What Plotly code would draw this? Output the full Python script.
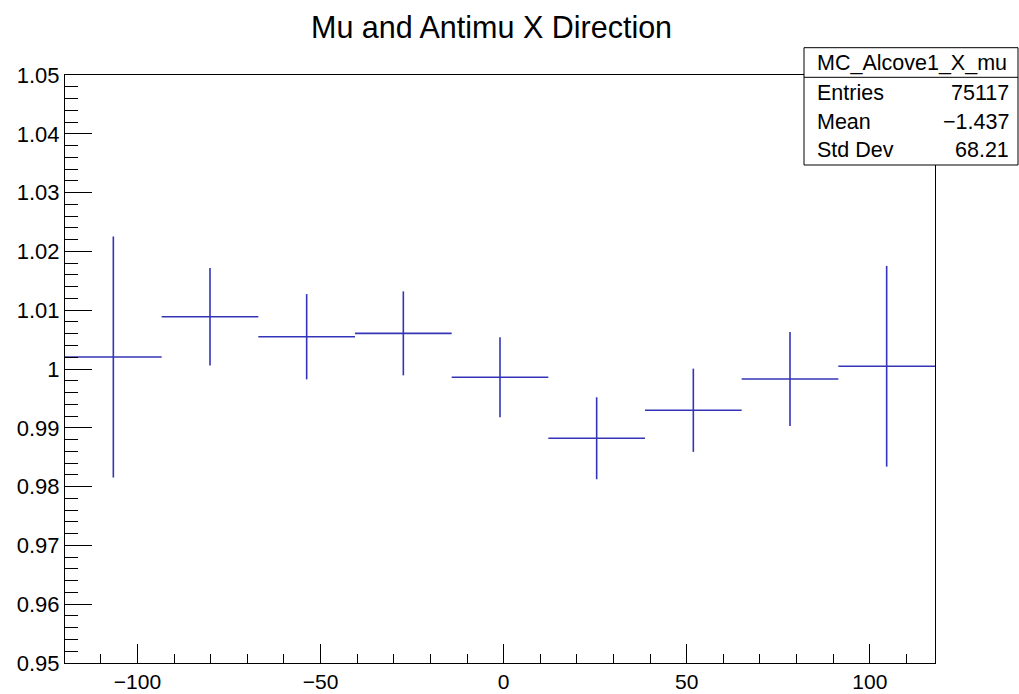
import plotly.graph_objects as go

# ---- data ----
bin_edges_lo = -119.8
bin_width = 26.4
n_bins = 9
bin_centers = [bin_edges_lo + bin_width * (i + 0.5) for i in range(n_bins)]
ratio_values = [1.00204, 1.00889, 1.00549, 1.00606, 0.99859, 0.98822, 0.99298, 0.99830, 1.00046]
ratio_errors = [0.0205, 0.0083, 0.00725, 0.00714, 0.0068, 0.00697, 0.00708, 0.0080, 0.01707]

x_tick_vals = [-100, -50, 0, 50, 100]
x_tick_text = ["\u2212100", "\u221250", "0", "50", "100"]
y_tick_vals = [0.95, 0.96, 0.97, 0.98, 0.99, 1.00, 1.01, 1.02, 1.03, 1.04, 1.05]
y_tick_text = ["0.95", "0.96", "0.97", "0.98", "0.99", "1", "1.01", "1.02", "1.03", "1.04", "1.05"]

title_text = "Mu and Antimu X Direction"
stats_name = "MC_Alcove1_X_mu"
stats_labels = ["Entries", "Mean", "Std Dev"]
stats_values = ["75117", "\u22121.437", "68.21"]

# ---- layout geometry ----
W, H = 1019, 694
ML, MR, MT, MB = 65, 84, 75, 31
PW, PH = W - ML - MR, H - MT - MB
FONT = "Liberation Sans, Arial, Helvetica, sans-serif"
BLUE = "#3434b8"


def px(xp):
    return (xp - ML) / PW


def py(yp):
    return (H - MB - yp) / PH


fig = go.Figure()
fig.add_trace(go.Scatter(
    x=bin_centers,
    y=ratio_values,
    mode="markers",
    marker=dict(size=0, color="rgba(0,0,0,0)"),
    error_x=dict(type="constant", value=bin_width / 2, width=0, thickness=1.6, color=BLUE),
    error_y=dict(type="data", array=ratio_errors, width=0, thickness=1.6, color=BLUE),
    showlegend=False,
    hoverinfo="x+y",
))

# stats box
bx0, bx1, by0, by1, bsep = 804, 1018, 47.7, 165, 77.3
shapes = [
    dict(type="rect", xref="paper", yref="paper", x0=px(bx0), x1=px(bx1), y0=py(by1), y1=py(by0),
         line=dict(color="black", width=1), fillcolor="white", layer="above"),
    dict(type="line", xref="paper", yref="paper", x0=px(bx0), x1=px(bx1), y0=py(bsep), y1=py(bsep),
         line=dict(color="black", width=1), layer="above"),
]
annotations = [
    dict(text=title_text, xref="paper", yref="paper", x=px(491), y=py(27), xanchor="center", yanchor="middle",
         showarrow=False, font=dict(family=FONT, size=30.5, color="black")),
    dict(text=stats_name, xref="paper", yref="paper", x=px(912), y=py(63), xanchor="center", yanchor="middle",
         showarrow=False, font=dict(family=FONT, size=21.5, color="black")),
]
row_y = [93.5, 121.7, 150]
for lab, val, yy in zip(stats_labels, stats_values, row_y):
    annotations.append(dict(text=lab, xref="paper", yref="paper", x=px(815), y=py(yy), xanchor="left",
                            yanchor="middle", showarrow=False, font=dict(family=FONT, size=21.5, color="black")))
    annotations.append(dict(text=val, xref="paper", yref="paper", x=px(1011), y=py(yy), xanchor="right",
                            yanchor="middle", showarrow=False, font=dict(family=FONT, size=21.5, color="black")))

fig.update_layout(
    width=W, height=H,
    margin=dict(l=ML, r=MR, t=MT, b=MB, pad=0, autoexpand=False),
    paper_bgcolor="white", plot_bgcolor="white",
    shapes=shapes, annotations=annotations,
    font=dict(family=FONT, size=21, color="black"),
)
fig.update_xaxes(
    range=[bin_edges_lo, bin_edges_lo + n_bins * bin_width],
    tickvals=x_tick_vals, ticktext=x_tick_text,
    ticks="inside", ticklen=19, tickwidth=1, tickcolor="black",
    minor=dict(dtick=10, tick0=0, ticks="inside", ticklen=9, tickwidth=1, tickcolor="black"),
    showgrid=False, zeroline=False, automargin=False,
    showline=True, linecolor="black", linewidth=1, mirror=True,
    tickfont=dict(family=FONT, size=21, color="black"),
)
fig.update_yaxes(
    range=[0.95, 1.05],
    tickvals=y_tick_vals, ticktext=y_tick_text,
    ticks="inside", ticklen=27, tickwidth=1, tickcolor="black",
    minor=dict(dtick=0.002, tick0=0.95, ticks="inside", ticklen=13, tickwidth=1, tickcolor="black"),
    showgrid=False, zeroline=False, automargin=False,
    showline=True, linecolor="black", linewidth=1, mirror=True,
    tickfont=dict(family=FONT, size=22, color="black"),
)

fig.write_html("out.html", config={"displayModeBar": False},
               post_script="document.body.style.margin='0';")
